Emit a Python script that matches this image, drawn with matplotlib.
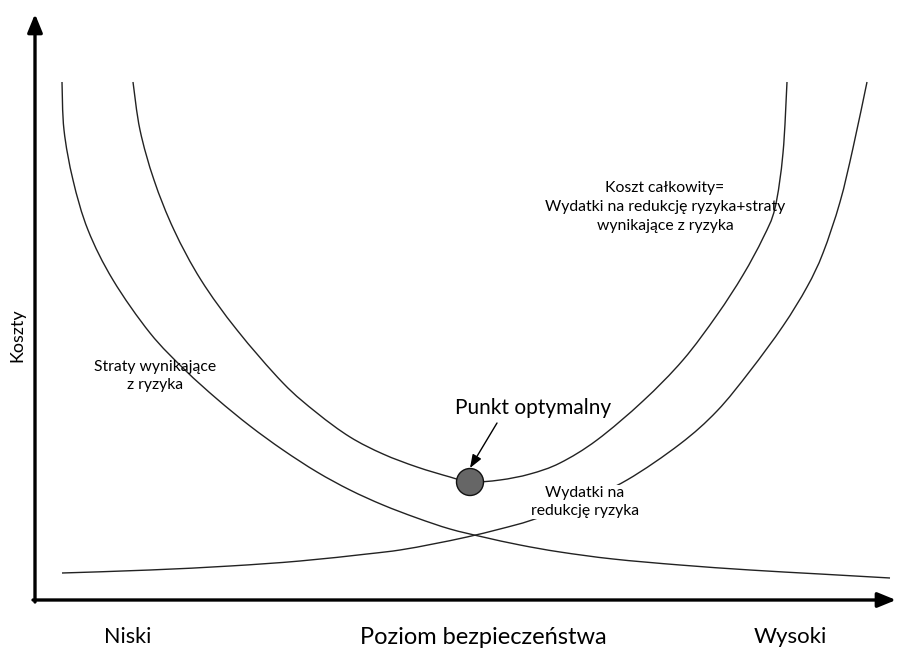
import matplotlib
matplotlib.use("Agg")
import matplotlib.pyplot as plt
from matplotlib.patches import Circle, PathPatch
from matplotlib.path import Path

plt.rcParams['font.family'] = ['Lato', 'DejaVu Sans']

H = 648  # cost axis height (cost = H - image row)

# Curve samples (x = security level, y = cost)
straty_x = [62, 64, 73, 88, 113, 150, 185, 217, 250, 283, 317, 350, 383, 417, 450, 483, 520, 560, 613, 680, 750, 820, 890]
straty_y = [566, 518, 468, 418, 368, 315, 278, 249, 222, 198, 176, 158, 143, 130, 119, 111, 103, 96, 89, 83, 78, 74, 70]

wydatki_x = [62, 150, 230, 300, 367, 400, 433, 467, 500, 532, 580, 627, 680, 717, 750, 783, 807, 823, 840, 853, 867]
wydatki_y = [75, 78, 82, 87, 94, 98, 104, 111, 119, 128, 146, 168, 204, 237, 277, 322, 361, 395, 446, 500, 566]

total_x = [133, 140, 154, 174, 201, 237, 283, 317, 350, 383, 417, 450, 470, 500, 530, 560, 597, 643, 683, 717, 743, 763, 775, 783, 787]
total_y = [566, 518, 468, 418, 368, 318, 265, 235, 211, 194, 181, 171, 166, 168, 174, 185, 208, 247, 288, 333, 373, 410, 440, 495, 566]

optimum = (470, 166)

x_labels = ["Niski", "Poziom bezpieczeństwa", "Wysoki"]
x_label_pos = [128, 483, 790]
x_label_size = [15.5, 17, 16]
y_label = "Koszty"


def smooth_path(xs, ys):
    """Catmull-Rom through the sampled points, drawn as cubic Bezier segments."""
    pts = list(zip(xs, ys))
    verts = [pts[0]]
    codes = [Path.MOVETO]
    n = len(pts)
    for i in range(n - 1):
        p0 = pts[i - 1] if i > 0 else pts[i]
        p1 = pts[i]
        p2 = pts[i + 1]
        p3 = pts[i + 2] if i + 2 < n else pts[i + 1]
        c1 = (p1[0] + (p2[0] - p0[0]) / 6.0, p1[1] + (p2[1] - p0[1]) / 6.0)
        c2 = (p2[0] - (p3[0] - p1[0]) / 6.0, p2[1] - (p3[1] - p1[1]) / 6.0)
        verts += [c1, c2, p2]
        codes += [Path.CURVE4] * 3
    return Path(verts, codes)


fig = plt.figure(figsize=(8.98, 6.48), dpi=100)
ax = fig.add_axes([0, 0, 1, 1])
ax.set_xlim(0, 898)
ax.set_ylim(0, H)
ax.axis('off')

lc = '#222222'
for xs, ys in [(straty_x, straty_y), (wydatki_x, wydatki_y), (total_x, total_y)]:
    ax.add_patch(PathPatch(smooth_path(xs, ys), facecolor='none', edgecolor=lc, lw=1.0, capstyle='butt'))

# axes arrows
ax.annotate('', xy=(35, 634), xytext=(35, 46),
            arrowprops=dict(arrowstyle='-|>,head_length=1.1,head_width=0.45', lw=2.4, color='black', shrinkA=0, shrinkB=0))
ax.annotate('', xy=(896, 48), xytext=(33, 48),
            arrowprops=dict(arrowstyle='-|>,head_length=1.1,head_width=0.45', lw=2.4, color='black', shrinkA=0, shrinkB=0))

# optimum point
ax.add_patch(Circle(optimum, 13.5, facecolor='#666666', edgecolor='#111111', lw=1.0, zorder=5))
ax.annotate('', xy=(optimum[0], optimum[1] + 14), xytext=(497, 225),
            arrowprops=dict(arrowstyle='-|>,head_length=0.8,head_width=0.3', lw=1.0, color='black', shrinkA=0, shrinkB=0))

ax.text(533, 240, "Punkt optymalny", fontsize=15, ha='center', va='center')
ax.text(665, 441, "Koszt całkowity=\nWydatki na redukcję ryzyka+straty\nwynikające z ryzyka",
        fontsize=11.3, ha='center', va='center', linespacing=1.45)
ax.text(155, 272, "Straty wynikające\nz ryzyka", fontsize=11.3, ha='center', va='center', linespacing=1.35)
ax.text(585, 146, "Wydatki na\nredukcję ryzyka", fontsize=11.3, ha='center', va='center', linespacing=1.35,
        bbox=dict(facecolor='white', edgecolor='none', pad=1), zorder=4)

for lab, xp, fs in zip(x_labels, x_label_pos, x_label_size):
    ax.text(xp, 11, lab, fontsize=fs, ha='center', va='center')
ax.text(17, 313, y_label, fontsize=13, ha='center', va='center', rotation=90)

fig.savefig('out.png', dpi=100)
